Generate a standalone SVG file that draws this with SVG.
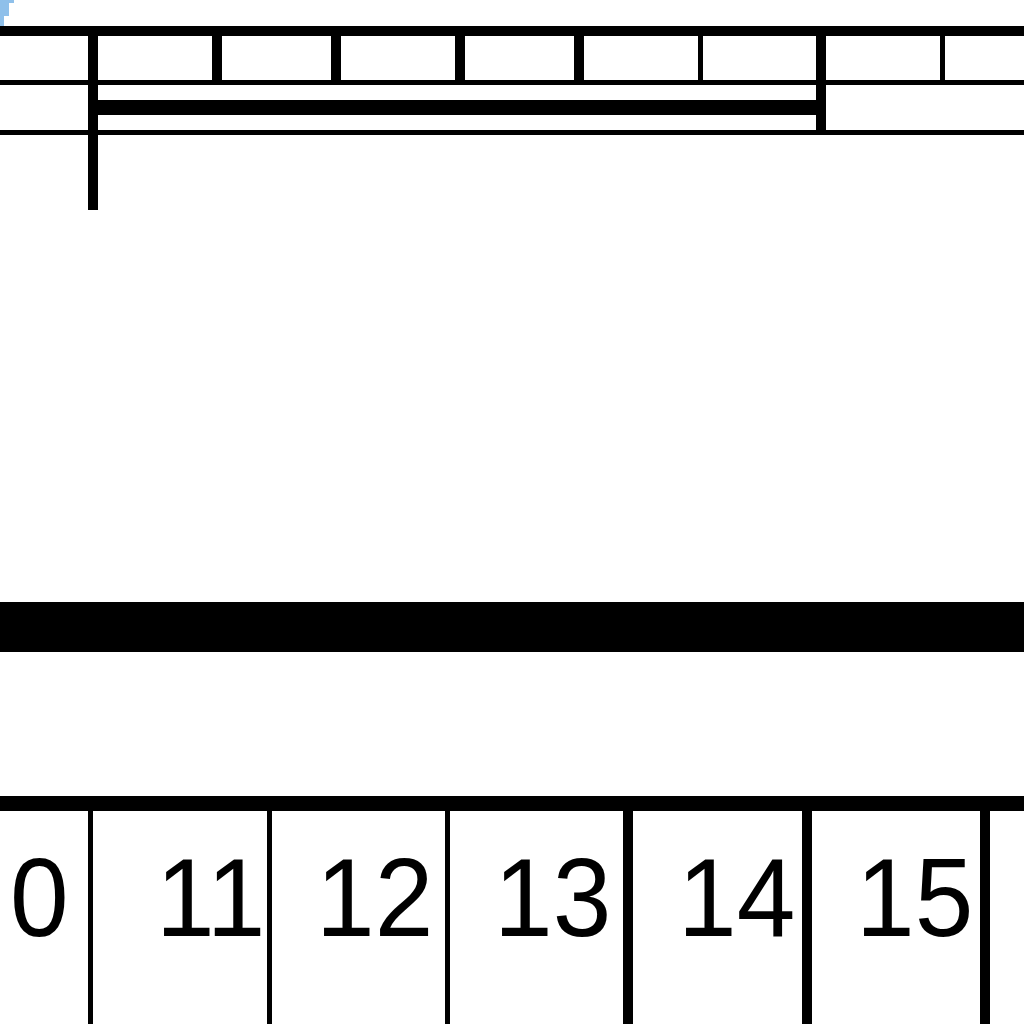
<svg xmlns="http://www.w3.org/2000/svg" width="1024" height="1024" viewBox="0 0 1024 1024">
<style>
rect{fill:#000;shape-rendering:crispEdges}
.t{font-family:"Liberation Sans",Arial,sans-serif;font-size:111px;fill:#000}
</style>
<rect x="0" y="0" width="1024" height="1024" style="fill:#fff"/>
<polygon points="0,0 14,0 14,3 9,3 9,16 4,16 4,26 0,26" fill="#8fc0ea"/>
<g id="top-rail">
<rect x="0" y="26" width="1024" height="10"/>
<rect x="0" y="80" width="1024" height="5"/>
<rect x="0" y="130" width="1024" height="5"/>
<rect x="88" y="26" width="10" height="184"/>
<rect x="98" y="100" width="718" height="15"/>
<rect x="816" y="26" width="10" height="104"/>
<rect x="212" y="36" width="10" height="44"/>
<rect x="331" y="36" width="10" height="44"/>
<rect x="455" y="36" width="10" height="44"/>
<rect x="574" y="36" width="10" height="44"/>
<rect x="698" y="36" width="5" height="44"/>
<rect x="940" y="36" width="5" height="44"/>
</g>
<g id="middle-band">
<rect x="0" y="602" width="1024" height="50"/>
</g>
<g id="scale">
<rect x="0" y="796" width="1024" height="15"/>
<rect x="88" y="811" width="5" height="213"/>
<rect x="267" y="811" width="5" height="213"/>
<rect x="445" y="811" width="5" height="213"/>
<rect x="623" y="811" width="10" height="213"/>
<rect x="802" y="811" width="10" height="213"/>
<rect x="980" y="811" width="10" height="213"/>
<text class="t" transform="translate(10,936) scale(0.95,1)">0</text>
<text class="t" transform="translate(156,936) scale(0.95,1)">11</text>
<text class="t" transform="translate(316,936) scale(0.95,1)">12</text>
<text class="t" transform="translate(494,936) scale(0.95,1)">13</text>
<text class="t" transform="translate(678,936) scale(0.95,1)">14</text>
<text class="t" transform="translate(856,936) scale(0.95,1)">15</text>
</g>
</svg>
